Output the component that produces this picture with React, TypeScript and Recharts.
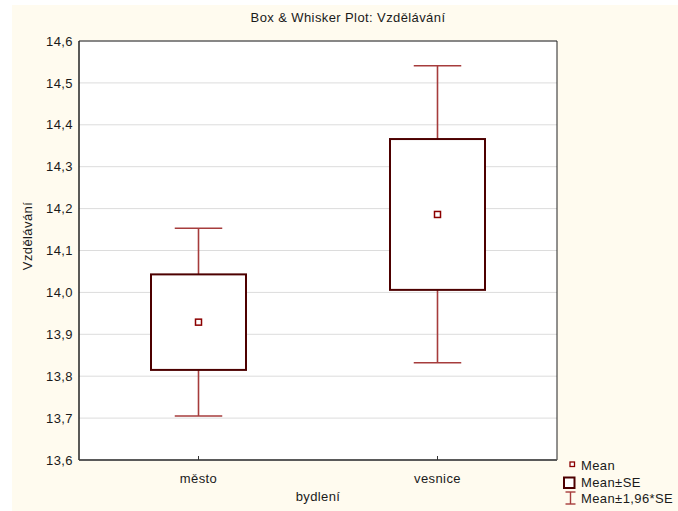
import React from 'react';
import {
  ComposedChart,
  Bar,
  Scatter,
  XAxis,
  YAxis,
  CartesianGrid,
  ReferenceArea,
} from 'recharts';

// ---- data ----
const categories = ['město', 'vesnice'];
const means = [13.929, 14.186];
const seLow = [13.815, 14.006];
const seHigh = [14.043, 14.366];
const ciLow = [13.705, 13.832];
const ciHigh = [14.153, 14.541];
const yTicks = [13.6, 13.7, 13.8, 13.9, 14.0, 14.1, 14.2, 14.3, 14.4, 14.5, 14.6];
const legendLabels = ['Mean', 'Mean±SE', 'Mean±1,96*SE'];
const titleText = 'Box & Whisker Plot: Vzdělávání';
const yLabel = 'Vzdělávání';
const xLabel = 'bydlení';

const data = categories.map((cat, i) => ({
  cat,
  mean: means[i],
  seLow: seLow[i],
  seHigh: seHigh[i],
  ciLow: ciLow[i],
  ciHigh: ciHigh[i],
  ci: [ciLow[i], ciHigh[i]],
}));

const FONT = '"Liberation Sans", Arial, sans-serif';
const TEXT = '#1a1a1a';
const BOX = '#4d0000';
const WHISK = '#a63c3c';
const MEAN = '#8b0000';

const BoxShape = (props: any) => {
  const { x, y, width, height, payload } = props;
  if (payload == null || width == null) return null;
  const top = Math.min(y, y + height);
  const h = Math.abs(height);
  const k = h / (payload.ciHigh - payload.ciLow);
  const toY = (v: number) => top + (payload.ciHigh - v) * k;
  const cx = x + width / 2;
  const capW = width / 2;
  const bTop = toY(payload.seHigh);
  const bBot = toY(payload.seLow);
  return (
    <g>
      <line x1={cx} x2={cx} y1={top} y2={top + h} stroke={WHISK} strokeWidth={1.6} />
      <line x1={cx - capW / 2} x2={cx + capW / 2} y1={top} y2={top} stroke={WHISK} strokeWidth={1.6} />
      <line x1={cx - capW / 2} x2={cx + capW / 2} y1={top + h} y2={top + h} stroke={WHISK} strokeWidth={1.6} />
      <rect x={x} y={bTop} width={width} height={bBot - bTop} fill="#ffffff" stroke={BOX} strokeWidth={2} />
    </g>
  );
};

const MeanShape = (props: any) => {
  const { cx, cy } = props;
  if (cx == null || cy == null) return null;
  return <rect x={cx - 3} y={cy - 3} width={6} height={6} fill="#ffffff" stroke={MEAN} strokeWidth={1.5} />;
};

const fmt = (v: number) => v.toFixed(1).replace('.', ',');

const textStyle: React.CSSProperties = {
  position: 'absolute',
  fontFamily: FONT,
  fontSize: 13,
  letterSpacing: 0.4,
  color: TEXT,
  lineHeight: 1,
  whiteSpace: 'nowrap',
};

export default function App() {
  return (
    <div style={{ position: 'absolute', left: 0, top: 0, width: 678, height: 511, background: '#ffffff' }}>
      <div style={{ position: 'absolute', left: 12, top: 5, width: 666, height: 506, background: '#fffbef' }} />
      <div style={{ position: 'absolute', left: 0, top: 0 }}>
        <ComposedChart
          width={678}
          height={511}
          data={data}
          margin={{ top: 41, right: 121, bottom: 21, left: 0 }}
        >
          <CartesianGrid vertical={false} stroke="#dcdcdc" fill="#ffffff" />
          <XAxis
            xAxisId="top"
            orientation="top"
            dataKey="cat"
            height={0}
            tick={false}
            tickSize={-4}
            axisLine={false}
            tickLine={{ stroke: '#333' }}
          />
          <XAxis
            dataKey="cat"
            height={30}
            tickSize={-4}
            tickMargin={18}
            tickLine={{ stroke: '#333' }}
            axisLine={{ stroke: '#5a5a5a', strokeWidth: 2 }}
            tick={{ fontFamily: FONT, fontSize: 13, fill: TEXT, letterSpacing: 0.4 }}
          />
          <YAxis
            width={79}
            domain={[13.6, 14.6]}
            ticks={yTicks}
            allowDataOverflow
            tickFormatter={fmt}
            tickLine={false}
            tickSize={0}
            tickMargin={6}
            axisLine={{ stroke: '#222' }}
            tick={{ fontFamily: FONT, fontSize: 13, fill: TEXT, letterSpacing: 0.4 }}
          />
          <ReferenceArea y1={13.6} y2={14.6} fill="none" stroke="#222" strokeWidth={1} ifOverflow="visible" />
          <Bar dataKey="ci" barSize={95} shape={<BoxShape />} isAnimationActive={false} />
          <Scatter dataKey="mean" shape={<MeanShape />} isAnimationActive={false} />
        </ComposedChart>
      </div>

      <div style={{ ...textStyle, left: 348, top: 17, transform: 'translate(-50%, -50%)' }}>{titleText}</div>
      <div style={{ ...textStyle, left: 27, top: 236, transform: 'translate(-50%, -50%) rotate(-90deg)' }}>{yLabel}</div>
      <div style={{ ...textStyle, left: 318, top: 496, transform: 'translate(-50%, -50%)' }}>{xLabel}</div>

      {/* legend */}
      <svg style={{ position: 'absolute', left: 560, top: 458 }} width={20} height={52}>
        <rect x={10} y={4} width={4.5} height={4.5} fill="#fff" stroke={MEAN} strokeWidth={1.3} />
        <rect x={4} y={19.5} width={10.5} height={10.5} fill="#fff" stroke={BOX} strokeWidth={2} />
        <line x1={10.5} x2={10.5} y1={34} y2={46} stroke={WHISK} strokeWidth={1.4} />
        <line x1={5.5} x2={15.5} y1={34} y2={34} stroke={WHISK} strokeWidth={1.4} />
        <line x1={5.5} x2={15.5} y1={46} y2={46} stroke={WHISK} strokeWidth={1.4} />
      </svg>
      {legendLabels.map((l, i) => (
        <div key={l} style={{ ...textStyle, left: 581, top: 465 + i * 16.5, transform: 'translateY(-50%)' }}>{l}</div>
      ))}
    </div>
  );
}
